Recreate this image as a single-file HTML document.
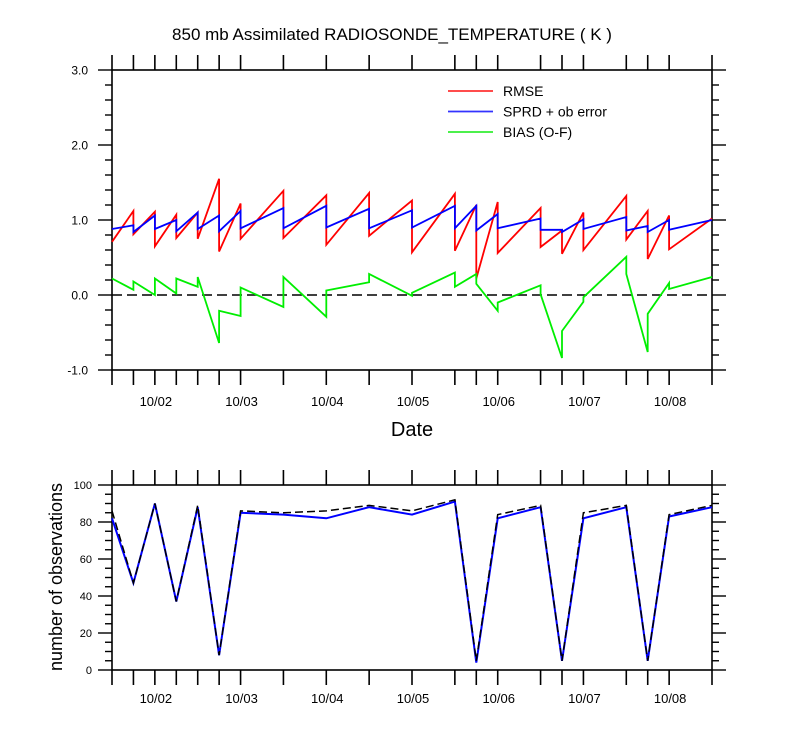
<!DOCTYPE html>
<html><head><meta charset="utf-8"><style>
html,body{margin:0;padding:0;background:#fff;}
svg{display:block;font-family:"Liberation Sans",sans-serif;}
</style></head><body>
<svg id="chart" width="800" height="750" viewBox="0 0 800 750"></svg>
<script>
// ---- data ----
const binEdges = [1.5,1.75,2,2.25,2.5,2.75,3,3.5,4,4.5,5,5.5,5.75,6,6.5,6.75,7,7.5,7.75,8,8.5];
const dayTicks = [2,3,4,5,6,7,8];
const dayLabels = ["10/02","10/03","10/04","10/05","10/06","10/07","10/08"];
const yTicksTop = [-1,0,1,2,3];
const yTickLabelsTop = ["-1.0","0.0","1.0","2.0","3.0"];
const yTicksBot = [0,20,40,60,80,100];
// per-bin start / end values
const rmseStart = [0.71,0.81,0.65,0.76,0.75,0.58,0.75,0.76,0.67,0.79,0.57,0.59,0.22,0.56,0.64,0.55,0.60,0.74,0.48,0.61];
const rmseEnd   = [1.12,1.11,1.07,1.10,1.55,1.22,1.39,1.33,1.36,1.26,1.35,1.20,1.24,1.16,0.86,1.10,1.32,1.12,1.06,1.02];
const sprdStart = [0.88,0.84,0.88,0.85,0.88,0.85,0.89,0.89,0.90,0.89,0.90,0.89,0.86,0.89,0.87,0.84,0.88,0.86,0.84,0.87];
const sprdEnd   = [0.93,1.06,1.00,1.10,1.06,1.12,1.16,1.19,1.15,1.13,1.19,1.19,1.08,1.02,0.87,1.01,1.04,0.92,1.00,1.00];
const biasStart = [0.22,0.18,0.22,0.22,0.24,-0.21,0.10,0.24,0.06,0.28,0.03,0.11,0.15,-0.10,0.01,-0.48,-0.03,0.28,-0.25,0.08];
const biasEnd   = [0.07,0.00,0.02,0.11,-0.64,-0.28,-0.16,-0.29,0.17,-0.01,0.30,0.28,-0.21,0.13,-0.84,-0.09,0.51,-0.76,0.16,0.24];
const obsUsed     = [82,47,90,37,88,8,85,84,82,88,84,91,4,82,88,5,82,88,5,83,88];
const obsPossible = [86,47,90,37,89,8,86,85,86,89,86,92,5,84,89,5,85,89,5,84,89];

// ---- layout ----
const X0=112, X1=712, D0=1.5, D1=8.5;
const T_TOP=70, T_BOT=370, V0=-1, V1=3;
const B_TOP=485, B_BOT=670;
const xs = d => X0 + (d-D0)/(D1-D0)*(X1-X0);
const yt = v => T_BOT - (v-V0)/(V1-V0)*(T_BOT-T_TOP);
const yb = v => B_BOT - v/100*(B_BOT-B_TOP);
const svg = document.getElementById('chart');
const NS='http://www.w3.org/2000/svg';
function mk(tag, attrs, parent){
  const e=document.createElementNS(NS,tag);
  for(const k in attrs) e.setAttribute(k,attrs[k]);
  (parent||svg).appendChild(e); return e;
}
function txt(s, attrs, parent){ const t=mk('text',attrs,parent); t.textContent=s; return t; }

// title
const title = txt("850 mb Assimilated RADIOSONDE_TEMPERATURE ( K )",{x:392,y:40,'font-size':17,'text-anchor':'middle'});



function drawFrame(top,bot,name){
  const g=mk('g',{});
  
  
  mk('rect',{x:X0,y:top,width:X1-X0,height:bot-top,fill:'none',stroke:'#000','stroke-width':1.6},g);
  binEdges.forEach(d=>{
    const x=xs(d);
    mk('line',{x1:x,x2:x,y1:top,y2:top-15,stroke:'#000','stroke-width':1.6},g);
    mk('line',{x1:x,x2:x,y1:bot,y2:bot+15,stroke:'#000','stroke-width':1.6},g);
  });
  return g;
}

// ---- top panel ----
const gTopAx = drawFrame(T_TOP,T_BOT,'top-panel');
for(let v=V0; v<=V1+1e-9; v+=0.2){
  const y=yt(v); const major=Math.abs(v-Math.round(v))<1e-6;
  const L = major?14:7;
  mk('line',{x1:X0,x2:X0-L,y1:y,y2:y,stroke:'#000','stroke-width':1.4},gTopAx);
  mk('line',{x1:X1,x2:X1+L,y1:y,y2:y,stroke:'#000','stroke-width':1.4},gTopAx);
}
yTicksTop.forEach((v,i)=>{
  const t=txt(yTickLabelsTop[i],{x:88,y:yt(v)+4.5,'font-size':12,'text-anchor':'end'},gTopAx);
  
  
});
dayTicks.forEach((d,i)=>{
  const t=txt(dayLabels[i],{x:xs(d)+1,y:406,'font-size':13,'text-anchor':'middle'},gTopAx);
  
  
});
const dateT = txt("Date",{x:412,y:436,'font-size':20,'text-anchor':'middle'});



const zl = mk('line',{x1:X0,x2:X1,y1:yt(0),y2:yt(0),stroke:'#000','stroke-width':1.5,'stroke-dasharray':'10,5'});



function sawPath(starts, ends){
  let p='';
  for(let i=0;i<starts.length;i++){
    p += (i===0?'M':'L') + xs(binEdges[i]).toFixed(1)+','+yt(starts[i]).toFixed(1);
    p += 'L' + xs(binEdges[i+1]).toFixed(1)+','+yt(ends[i]).toFixed(1);
  }
  return p;
}
const sr = mk('path',{d:sawPath(rmseStart,rmseEnd),fill:'none',stroke:'#ff0000','stroke-width':1.8});


const ss = mk('path',{d:sawPath(sprdStart,sprdEnd),fill:'none',stroke:'#0000ff','stroke-width':1.8});


const sb = mk('path',{d:sawPath(biasStart,biasEnd),fill:'none',stroke:'#00ee00','stroke-width':1.8});



// legend
const leg=[["RMSE","#ff3333"],["SPRD + ob error","#3333ff"],["BIAS (O-F)","#33ee33"]];
const gl=mk('g',{});


leg.forEach((e,i)=>{
  const y=91+i*20.5;
  const g=mk('g',{},gl);
  
  
  mk('line',{x1:448,x2:493,y1:y,y2:y,stroke:e[1],'stroke-width':1.8},g);
  txt(e[0],{x:503,y:y+5,'font-size':14},g);
});

// ---- bottom panel ----
const gBotAx = drawFrame(B_TOP,B_BOT,'bottom-panel');
for(let v=0; v<=100; v+=5){
  const y=yb(v); const major=v%20===0; const L=major?14:7;
  mk('line',{x1:X0,x2:X0-L,y1:y,y2:y,stroke:'#000','stroke-width':1.4},gBotAx);
  mk('line',{x1:X1,x2:X1+L,y1:y,y2:y,stroke:'#000','stroke-width':1.4},gBotAx);
}
yTicksBot.forEach(v=>{
  const t=txt(String(v),{x:92,y:yb(v)+4,'font-size':11,'text-anchor':'end'},gBotAx);
  
  
});
dayTicks.forEach((d,i)=>{
  const t=txt(dayLabels[i],{x:xs(d)+1,y:703,'font-size':13,'text-anchor':'middle'},gBotAx);
  
  
});
const ylab = txt("number of observations",{x:0,y:0,'font-size':18,'text-anchor':'middle',transform:'translate(62,577) rotate(-90)'});



function linePath(vals){ return vals.map((v,i)=>(i?'L':'M')+xs(binEdges[i]).toFixed(1)+','+yb(v).toFixed(1)).join(''); }
const pu = mk('path',{d:linePath(obsUsed),fill:'none',stroke:'#0000ff','stroke-width':2});


const pp = mk('path',{d:linePath(obsPossible),fill:'none',stroke:'#000','stroke-width':1.5,'stroke-dasharray':'8,4'});


</script>
</body></html>
